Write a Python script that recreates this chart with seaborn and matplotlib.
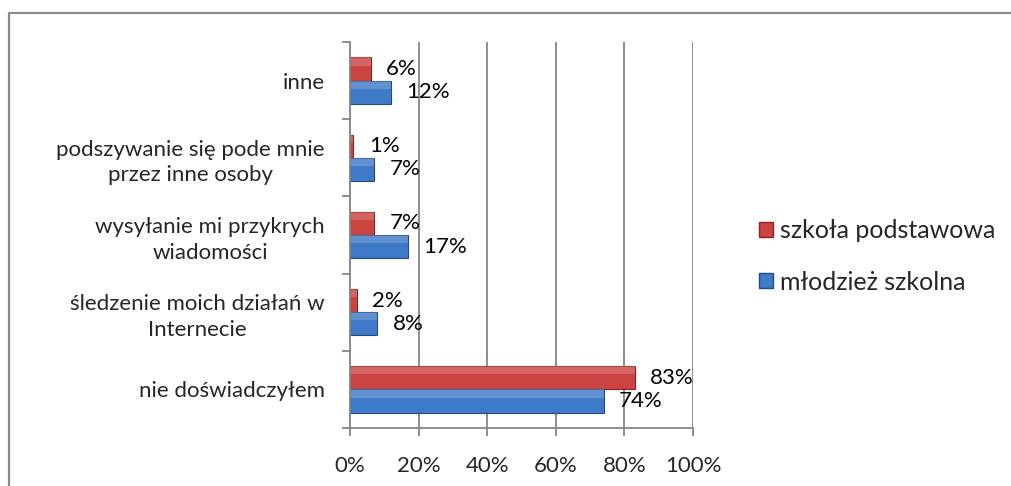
import numpy as np
import pandas as pd
import matplotlib
matplotlib.use("Agg")
import matplotlib.pyplot as plt
from matplotlib.lines import Line2D
from matplotlib.patches import Patch
import seaborn as sns

categories = [
    "inne",
    "podszywanie się pode mnie\nprzez inne osoby",
    "wysyłanie mi przykrych\nwiadomości",
    "śledzenie moich działań w\nInternecie",
    "nie doświadczyłem",
]
series_names = ["szkoła podstawowa", "młodzież szkolna"]
szkola_podstawowa = [6, 1, 7, 2, 83]
mlodziez_szkolna = [12, 7, 17, 8, 74]
x_ticks = [0, 20, 40, 60, 80, 100]
x_tick_labels = ["0%", "20%", "40%", "60%", "80%", "100%"]

df = pd.DataFrame({
    "kategoria": categories * 2,
    "grupa": [series_names[0]] * len(categories) + [series_names[1]] * len(categories),
    "wartosc": szkola_podstawowa + mlodziez_szkolna,
})

sns.set_theme(style="white")
plt.rcParams["font.family"] = ["Lato", "DejaVu Sans"]

red = "#CC4441"
blue = "#3F7AC8"
grid_grey = "#868686"
fs = 16

fig = plt.figure(figsize=(10.11, 4.86), dpi=100)
ax = fig.add_axes([350 / 1011, 1 - 428 / 486, (693 - 350) / 1011, (428 - 42) / 486])

sns.barplot(
    data=df, x="wartosc", y="kategoria", hue="grupa",
    order=categories, hue_order=series_names,
    palette=[red, blue], orient="h", width=0.6, ax=ax,
    legend=False, saturation=1,
)

for container, col in zip(ax.containers, ["#8E2422", "#234C86"]):
    for bar in container:
        bar.set_edgecolor(col)
        bar.set_linewidth(0.8)
        # lighter top band for a bevelled look
        x0, y0 = bar.get_x(), bar.get_y()
        w, h = bar.get_width(), bar.get_height()
        ax.add_patch(plt.Rectangle((x0, y0), w, h * 0.35,
                                   facecolor="white", alpha=0.18,
                                   linewidth=0, zorder=bar.get_zorder() + 0.1))
    ax.bar_label(container, labels=[f"{v:.0f}%" for v in container.datavalues],
                 padding=11, fontsize=fs, color="black")

ax.set_xlim(0, 100)
ax.set_ylim(len(categories) - 0.5, -0.5)
ax.set_xticks(x_ticks)
ax.set_xticklabels(x_tick_labels, fontsize=fs)
ax.set_xlabel("")
ax.set_ylabel("")
ax.xaxis.grid(True, color=grid_grey, linewidth=1.3)
ax.set_axisbelow(True)

ax.set_yticks(range(len(categories)))
ax.set_yticklabels(categories, fontsize=fs, multialignment="center", linespacing=1.35)
ax.set_yticks(np.arange(-0.5, len(categories), 1.0), minor=True)
ax.tick_params(axis="y", which="major", length=0, pad=18)
ax.tick_params(axis="y", which="minor", length=6, width=1.3, color=grid_grey, left=True)
ax.tick_params(axis="x", which="major", length=6, width=1.3, color=grid_grey, bottom=True, pad=14)

for side in ["top", "right"]:
    ax.spines[side].set_visible(False)
for side in ["left", "bottom"]:
    ax.spines[side].set_color(grid_grey)
    ax.spines[side].set_linewidth(1.3)

handles = [Patch(facecolor=red, edgecolor="#8E2422"), Patch(facecolor=blue, edgecolor="#234C86")]
fig.legend(handles, series_names, loc="upper left", bbox_to_anchor=(759 / 1011, 1 - 219 / 486),
           frameon=False, fontsize=18, handlelength=0.55, handleheight=0.55,
           handletextpad=0.3, labelspacing=1.15, borderaxespad=0, borderpad=0)

# outer chart frame
fig.add_artist(Line2D([8.5 / 1011, 1], [1 - 13 / 486, 1 - 13 / 486],
                      transform=fig.transFigure, color="#8C8C8C", linewidth=1.6))
fig.add_artist(Line2D([8.5 / 1011, 8.5 / 1011], [0, 1 - 13 / 486],
                      transform=fig.transFigure, color="#8C8C8C", linewidth=1.6))

fig.savefig("out.png", dpi=100)
